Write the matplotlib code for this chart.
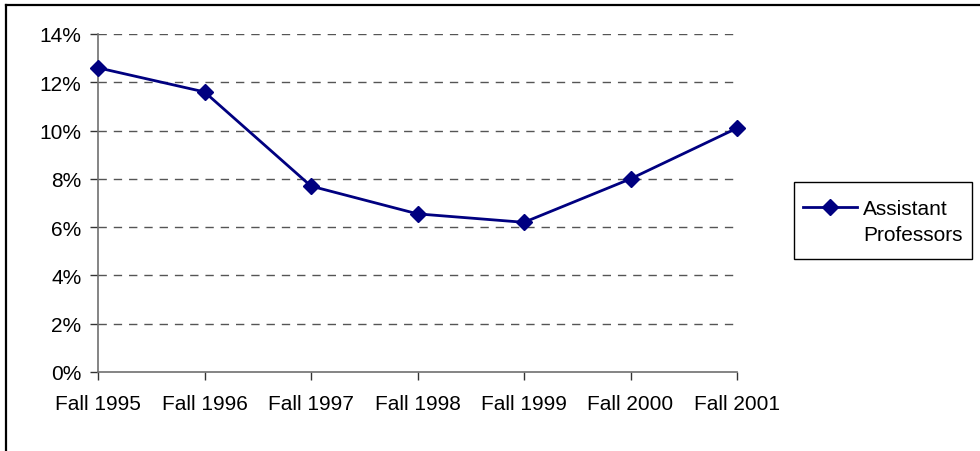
import matplotlib

matplotlib.use("Agg")
import matplotlib.pyplot as plt
from matplotlib.lines import Line2D
from matplotlib.patches import Rectangle
from matplotlib.ticker import FuncFormatter

# values (fraction of faculty, in %)
terms = ["Fall 1995", "Fall 1996", "Fall 1997", "Fall 1998",
         "Fall 1999", "Fall 2000", "Fall 2001"]
asst_prof = [12.6, 11.6, 7.7, 6.55, 6.2, 8.0, 10.1]
series_label = ["Assistant", "Professors"]
y_ticks = [0, 2, 4, 6, 8, 10, 12, 14]

plt.rcParams["font.family"] = ["Liberation Sans", "DejaVu Sans"]
FS = 15
NAVY = "#000080"

W, H = 980, 452
fig = plt.figure(figsize=(W / 100, H / 100), dpi=100)
ax = fig.add_axes([98 / W, 1 - 373 / H, (737 - 98) / W, (373 - 35) / H])

x = list(range(len(terms)))
ax.plot(x, asst_prof, color=NAVY, lw=2.0, marker="D", ms=8.5,
        mfc=NAVY, mec=NAVY, label=series_label[0], clip_on=False, zorder=3)

ax.set_xlim(0, len(terms) - 1)
ax.set_ylim(0, 14)
ax.set_xticks(x)
ax.set_xticklabels(terms)
ax.set_yticks(y_ticks)
ax.yaxis.set_major_formatter(FuncFormatter(lambda v, _: f"{v:.0f}%"))

for v in y_ticks[1:]:
    ax.axhline(v, color="#555555", lw=1.0, ls=(0, (6, 5)), zorder=1)

for side in ("top", "right"):
    ax.spines[side].set_visible(False)
for side in ("left", "bottom"):
    ax.spines[side].set_color("#707070")
    ax.spines[side].set_linewidth(1.2)

ax.tick_params(axis="both", direction="out", length=6, width=1.0,
               color="#333333", labelsize=FS, labelcolor="black")
ax.tick_params(axis="x", pad=10)
ax.tick_params(axis="y", pad=6)

# legend box drawn separately so its padding matches the original;
# the handle sits beside the first line of the label, as in Excel
fig.add_artist(Rectangle((794 / W, 1 - 260 / H), (972 - 794) / W, 77 / H,
                         transform=fig.transFigure, fill=False,
                         edgecolor="black", lw=1.0))
leg = fig.legend(loc="center left", bbox_to_anchor=(803 / W, 1 - 210 / H),
                 frameon=False, fontsize=FS, borderaxespad=0, borderpad=0,
                 handlelength=2.6, handletextpad=0.3)
fig.canvas.draw()
first = leg.get_texts()[0].get_window_extent()
fig.text(first.x0 / W, first.y0 / H - 26 / H, "\n".join(series_label[1:]),
         fontsize=FS, ha="left", va="bottom")

# outer chart frame (only top and left edges show in the reference)
fig.add_artist(Line2D([6 / W, 1], [1 - 6 / H, 1 - 6 / H],
                      transform=fig.transFigure, color="black", lw=1.6))
fig.add_artist(Line2D([6 / W, 6 / W], [0, 1 - 6 / H],
                      transform=fig.transFigure, color="black", lw=1.6))

fig.savefig("out.png", dpi=100)
